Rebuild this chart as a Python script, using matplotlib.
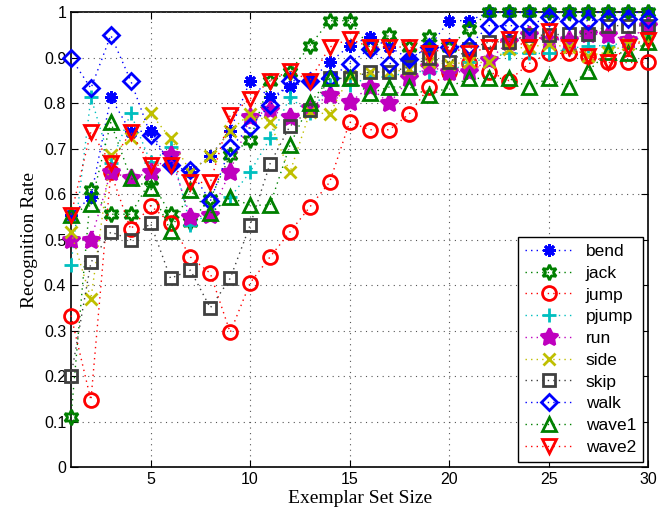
import matplotlib
matplotlib.use("Agg")
import matplotlib.pyplot as plt
import numpy as np

x = list(range(1, 31))

bend = [0.555, 0.594, 0.813, 0.737, 0.740, 0.664, 0.650, 0.684, 0.740, 0.850,
        0.813, 0.836, 0.850, 0.890, 0.927, 0.946, 0.924, 0.898, 0.924, 0.982,
        0.982, 1.0, 1.0, 1.0, 1.0, 1.0, 1.0, 1.0, 1.0, 1.0]
jack = [0.110, 0.610, 0.556, 0.556, 0.631, 0.556, 0.540, 0.590, 0.686, 0.720,
        0.850, 0.870, 0.927, 0.982, 0.982, 0.924, 0.950, 0.924, 0.946, 0.924,
        0.964, 1.0, 1.0, 1.0, 1.0, 1.0, 1.0, 1.0, 1.0, 1.0]
jump = [0.333, 0.147, 0.648, 0.523, 0.575, 0.537, 0.462, 0.426, 0.296, 0.405,
        0.462, 0.517, 0.572, 0.627, 0.759, 0.742, 0.742, 0.777, 0.836, 0.869,
        0.888, 0.870, 0.850, 0.887, 0.910, 0.910, 0.905, 0.890, 0.890, 0.890]
pjump = [0.445, 0.813, 0.668, 0.778, 0.670, 0.703, 0.532, 0.560, 0.593, 0.649,
         0.723, 0.813, 0.778, 0.840, 0.840, 0.858, 0.858, 0.870, 0.870, 0.870,
         0.890, 0.900, 0.910, 0.910, 0.910, 0.920, 0.927, 0.927, 0.935, 0.950]
run = [0.500, 0.500, 0.649, 0.635, 0.649, 0.686, 0.549, 0.554, 0.650, 0.770,
       0.785, 0.770, 0.790, 0.818, 0.802, 0.836, 0.800, 0.855, 0.880, 0.870,
       0.869, 0.895, 0.936, 0.950, 0.940, 0.940, 0.953, 0.950, 0.940, 0.970]
side = [0.517, 0.370, 0.686, 0.723, 0.778, 0.723, 0.650, 0.684, 0.740, 0.777,
        0.759, 0.648, 0.780, 0.777, 0.860, 0.869, 0.869, 0.875, 0.890, 0.887,
        0.890, 0.890, 0.920, 0.924, 0.930, 0.924, 0.905, 0.913, 0.930, 0.940]
skip = [0.200, 0.450, 0.517, 0.500, 0.536, 0.415, 0.433, 0.350, 0.415, 0.532,
        0.667, 0.750, 0.785, 0.855, 0.855, 0.869, 0.869, 0.880, 0.900, 0.890,
        0.920, 0.935, 0.936, 0.950, 0.950, 0.953, 0.953, 0.971, 0.971, 0.970]
walk = [0.900, 0.833, 0.950, 0.850, 0.730, 0.664, 0.653, 0.585, 0.703, 0.748,
        0.796, 0.850, 0.850, 0.855, 0.887, 0.920, 0.887, 0.898, 0.924, 0.924,
        0.927, 0.971, 0.971, 0.971, 0.990, 0.982, 0.982, 0.985, 0.985, 0.985]
wave1 = [0.555, 0.578, 0.758, 0.635, 0.613, 0.520, 0.609, 0.558, 0.593, 0.576,
         0.576, 0.708, 0.800, 0.855, 0.855, 0.822, 0.836, 0.836, 0.818, 0.836,
         0.855, 0.855, 0.855, 0.836, 0.855, 0.836, 0.872, 0.913, 0.910, 0.935]
wave2 = [0.555, 0.738, 0.668, 0.737, 0.664, 0.664, 0.626, 0.626, 0.774, 0.810,
         0.850, 0.872, 0.850, 0.924, 0.942, 0.924, 0.924, 0.924, 0.910, 0.924,
         0.910, 0.924, 0.942, 0.924, 0.960, 0.924, 0.905, 0.890, 0.924, 0.940]

names = ["bend", "jack", "jump", "pjump", "run", "side", "skip", "walk", "wave1", "wave2"]
series = [bend, jack, jump, pjump, run, side, skip, walk, wave1, wave2]
colors = ["#0000ff", "#008000", "#ff0000", "#00bfbf", "#bf00bf", "#bfbf00",
          "#404040", "#0000ff", "#008000", "#ff0000"]
markers = [(8, 2, 0), (6, 1, 0), "o", "+", (5, 1, 0), "x", "s", "D", "^", "v"]
msizes = [9, 11, 10, 10, 13, 8, 8, 8, 10, 10]
faces = ["none", "none", "none", "none", "#bf00bf", "none", "none", "none", "none", "none"]

fig = plt.figure(figsize=(6.6, 5.2), dpi=100)
ax = fig.add_axes([0.1076, 0.102, 0.8744, 0.874])

for name, ys, c, m, ms, fc in zip(names, series, colors, markers, msizes, faces):
    ax.plot(x, ys, linestyle=(0, (1, 3)), linewidth=1.0, color=c,
            marker=m, markersize=ms, markerfacecolor=fc,
            markeredgecolor=c, markeredgewidth=2.0, label=name, clip_on=False)

ax.set_xlim(1, 30)
ax.set_ylim(0, 1)
ax.set_xticks([5, 10, 15, 20, 25, 30])
yt = np.round(np.arange(0, 1.01, 0.1), 1)
ax.set_yticks(yt)
ax.set_yticklabels(["0"] + [f"{v:.1f}" for v in yt[1:-1]] + ["1"])
ax.grid(True, linestyle=(0, (1, 4)), color="#555555", linewidth=0.8)
ax.tick_params(direction="in", top=True, right=True, length=5,
               labelsize=11.5)
for lab in ax.get_xticklabels() + ax.get_yticklabels():
    lab.set_family(["Liberation Sans", "DejaVu Sans"])
for s in ax.spines.values():
    s.set_linewidth(1.2)
    s.set_zorder(0.5)

ax.set_xlabel("Exemplar Set Size", family=["Liberation Serif", "DejaVu Serif"],
              fontsize=14, labelpad=2)
ax.set_ylabel("Recognition Rate", family=["Liberation Serif", "DejaVu Serif"],
              fontsize=14, labelpad=4)

leg = ax.legend(loc="lower right", prop={"family": "Liberation Sans", "size": 12.5},
                frameon=True, fancybox=False, edgecolor="black", framealpha=1,
                handlelength=2.8, labelspacing=0.38, borderaxespad=0.3,
                borderpad=0.4, handletextpad=0.7)
leg.get_frame().set_linewidth(1.0)
leg.set_zorder(10)

fig.savefig("out.png", dpi=100)
